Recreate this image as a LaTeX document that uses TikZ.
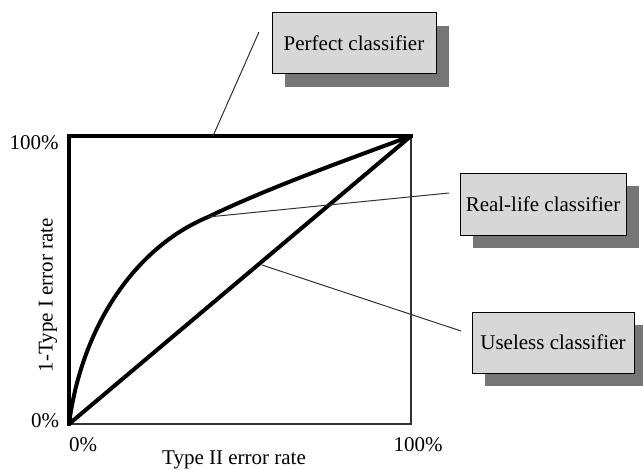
\documentclass[tikz,border=0pt]{standalone}
\usepackage{fontspec}
\setmainfont{Liberation Serif}
\usetikzlibrary{shadows}
\definecolor{boxfill}{RGB}{215,215,215}
\definecolor{shadowgray}{RGB}{118,118,118}
\definecolor{leadgray}{RGB}{50,50,50}
\begin{document}
\begin{tikzpicture}[x=1pt,y=-1pt,
  lbl/.style={font=\fontsize{21}{24}\selectfont, inner sep=0pt},
  callout/.style={lbl, draw=black, line width=1pt, fill=boxfill,
    minimum width=164pt, minimum height=61pt,
    drop shadow={shadow xshift=13pt, shadow yshift=-13pt, fill=shadowgray, opacity=1, draw=none}},
  thickline/.style={line width=4pt},
  thinline/.style={line width=1.6pt, draw=leadgray},
  leader/.style={line width=1pt, draw=leadgray}]
\useasboundingbox (0,0) rectangle (643,469);
% axes frame
\coordinate (o) at (69,424);
\coordinate (tl) at (69,136);
\coordinate (tr) at (411,136);
\coordinate (br) at (411,424);
\draw[thinline] (tr) -- (br) -- (o);
\draw[thickline, line cap=rect] (o) -- (tl) -- (tr);
% useless diagonal
\draw[thickline] (o) -- (tr);
% real-life curve
\coordinate (cm) at (208,217);
\draw[thickline] (o) .. controls (82,325) and (136,247) .. (cm)
  .. controls (270,187) and (352,158) .. (tr);
% axis labels
\node[lbl] (y100) at (34,143) {100\%};
\node[lbl] (y0) at (45,421) {0\%};
\node[lbl] (x0) at (83,445) {0\%};
\node[lbl] (x100) at (418,445) {100\%};
\node[lbl] (xlab) at (234,460) {Type II error rate};
\node[lbl, rotate=90] (ylab) at (48,295) {1-Type I error rate};
% callouts
\node[callout] (perfect) at (354,43) {Perfect classifier};
\node[callout, minimum width=166pt, minimum height=62pt] (real) at (543,204) {Real-life classifier};
\node[callout, minimum width=162pt] (useless) at (553,342.5) {Useless classifier};
% leader lines
\coordinate (pstart) at (213,136);
\coordinate (pend) at (259,32);
\coordinate (rend) at (449,193);
\coordinate (ustart) at (262,265);
\coordinate (uend) at (461,331);
\draw[leader] (pstart) -- (pend);
\draw[leader] (cm) -- (rend);
\draw[leader] (ustart) -- (uend);
\end{tikzpicture}
\end{document}
